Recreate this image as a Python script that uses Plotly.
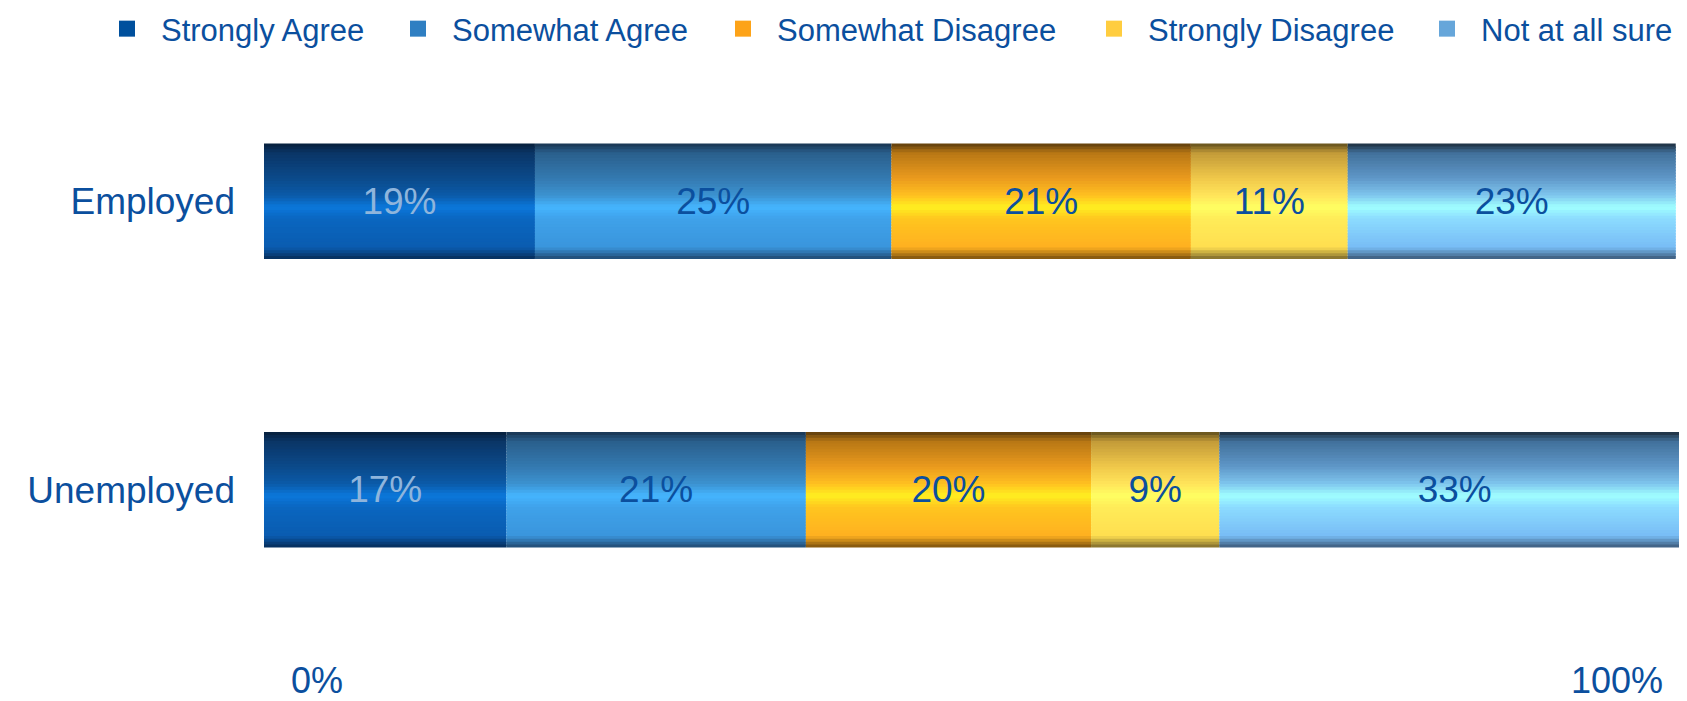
import plotly.graph_objects as go

# ---------------- data ----------------
CATEGORIES = ["Employed", "Unemployed"]
SERIES = ["Strongly Agree", "Somewhat Agree", "Somewhat Disagree", "Strongly Disagree", "Not at all sure"]
strongly_agree = [19, 17]
somewhat_agree = [25, 21]
somewhat_disagree = [21, 20]
strongly_disagree = [11, 9]
not_sure = [23, 33]
AXIS_TICKS = [0, 100]
AXIS_TICK_LABELS = ["0%", "100%"]

VALUES = [strongly_agree, somewhat_agree, somewhat_disagree, strongly_disagree, not_sure]

# ---------------- style ----------------
FONT = "Arial, 'Liberation Sans', sans-serif"
TEXT_BLUE = "#0b4f9e"
LEGEND_COLORS = ["#00509d", "#2f7fc2", "#fda318", "#ffcd3f", "#66a6da"]
LEGEND_X_PX = [85, 376, 701, 1072, 1405]   # left edge of each legend box (px)
LABEL_COLORS = ["#8fb5dc", TEXT_BLUE, TEXT_BLUE, TEXT_BLUE, TEXT_BLUE]
# cylinder shading stops (top -> bottom)
GRADIENTS = [
    [(0.0, "#071f3a"), (0.08, "#0a3566"), (0.3, "#0b4a8a"), (0.45, "#0b5aa8"), (0.55, "#0b78dc"),
     (0.65, "#0a66c0"), (0.9, "#0a5cb0"), (1.0, "#062c58")],
    [(0.0, "#18334f"), (0.08, "#2a5f8c"), (0.3, "#3479b0"), (0.45, "#3c92d0"), (0.55, "#45b5ff"),
     (0.65, "#3fa2ea"), (0.9, "#3a95dc"), (1.0, "#21486f")],
    [(0.0, "#5a3a0c"), (0.08, "#b77715"), (0.3, "#ea9a1e"), (0.45, "#ffc020"), (0.55, "#fff020"),
     (0.65, "#ffc61f"), (0.9, "#ffb020"), (1.0, "#7a500e")],
    [(0.0, "#5e4d1c"), (0.08, "#c29a38"), (0.3, "#f0c84a"), (0.45, "#ffe45a"), (0.55, "#ffff62"),
     (0.65, "#ffec58"), (0.9, "#ffde50"), (1.0, "#7d6a2c")],
    [(0.0, "#1c2c3c"), (0.08, "#41709a"), (0.3, "#5f97c8"), (0.45, "#7fc6ee"), (0.55, "#a0ffff"),
     (0.65, "#8cdcff"), (0.9, "#78bcf5"), (1.0, "#3b5978")],
]
BAR_WIDTH = 0.4
N_STRIPS = 40
W, H = 1687, 701


def hex_to_rgb(h):
    h = h.lstrip("#")
    return tuple(int(h[i:i + 2], 16) for i in (0, 2, 4))


def grad_color(stops, t):
    for (t0, c0), (t1, c1) in zip(stops[:-1], stops[1:]):
        if t0 <= t <= t1:
            f = 0 if t1 == t0 else (t - t0) / (t1 - t0)
            a, b = hex_to_rgb(c0), hex_to_rgb(c1)
            return "rgb(%d,%d,%d)" % tuple(round(a[i] + (b[i] - a[i]) * f) for i in range(3))
    return stops[-1][1]


# cumulative bases
bases = []
running = [0] * len(CATEGORIES)
for vals in VALUES:
    bases.append(list(running))
    running = [r + v for r, v in zip(running, vals)]

fig = go.Figure()

# shading strips (cylinder look), drawn from the data with base = cumulative start
strip_w = BAR_WIDTH / N_STRIPS
for name, vals, base, stops in zip(SERIES, VALUES, bases, GRADIENTS):
    for k in range(N_STRIPS):
        t = (k + 0.5) / N_STRIPS
        last = k == N_STRIPS - 1
        fig.add_trace(go.Bar(
            y=CATEGORIES, x=vals, base=base, orientation="h",
            width=strip_w if last else strip_w * 1.6, offset=-BAR_WIDTH / 2 + k * strip_w,
            marker=dict(color=grad_color(stops, t), line=dict(width=0)),
            showlegend=False, hoverinfo="skip",
        ))

# value labels
for name, vals, base, lc in zip(SERIES, VALUES, bases, LABEL_COLORS):
    fig.add_trace(go.Bar(
        y=CATEGORIES, x=vals, base=base, orientation="h", width=BAR_WIDTH,
        marker=dict(color="rgba(0,0,0,0)", line=dict(width=0)),
        text=[f"{v}%" for v in vals], textposition="inside", insidetextanchor="middle",
        textangle=0, constraintext="none",
        textfont=dict(family=FONT, size=37, color=lc),
        showlegend=False, hoverinfo="skip",
    ))

# legend entries, one legend box per entry so each can sit where the reference has it
legend_layout = {}
for i, (name, col, lx) in enumerate(zip(SERIES, LEGEND_COLORS, LEGEND_X_PX)):
    key = "legend" if i == 0 else f"legend{i + 1}"
    fig.add_trace(go.Scatter(
        x=[None], y=[None], mode="markers", name=name, legend=key,
        marker=dict(symbol="square", size=30, color=col, line=dict(width=0)),
    ))
    legend_layout[key] = dict(
        orientation="h", xref="container", yref="container", x=lx / W, xanchor="left",
        y=1 - 21 / H, yanchor="middle", font=dict(family=FONT, size=31, color=TEXT_BLUE),
        itemwidth=58, itemsizing="trace", bgcolor="rgba(0,0,0,0)",
        itemclick=False, itemdoubleclick=False,
    )

# helper trace for the second x axis (carries the 100% tick)
fig.add_trace(go.Scatter(x=AXIS_TICKS, y=[CATEGORIES[0], CATEGORIES[0]], xaxis="x2",
                         mode="none", showlegend=False, hoverinfo="skip"))

axis_common = dict(range=[0, 100], showgrid=False, zeroline=False, showline=False, ticks="",
                   tickfont=dict(family=FONT, size=36, color=TEXT_BLUE), ticklabelstandoff=22,
                   automargin=False)

fig.update_layout(
    width=W, height=H,
    paper_bgcolor="white", plot_bgcolor="white",
    barmode="overlay",
    margin=dict(l=256, r=5, t=49, b=75, autoexpand=False),
    font=dict(family=FONT, color=TEXT_BLUE),
    showlegend=True,
    xaxis=dict(**axis_common, tickvals=[AXIS_TICKS[0]], ticktext=[AXIS_TICK_LABELS[0]],
               ticklabelshift=53),
    xaxis2=dict(**axis_common, overlaying="x", matches="x", side="bottom", anchor="y",
                tickvals=[AXIS_TICKS[1]], ticktext=[AXIS_TICK_LABELS[1]], ticklabelshift=-73),
    yaxis=dict(categoryorder="array", categoryarray=CATEGORIES, range=[1.5, -0.5],
               showgrid=False, zeroline=False, showline=False, ticks="", automargin=False,
               tickfont=dict(family=FONT, size=37, color=TEXT_BLUE), ticklabelstandoff=28),
    **legend_layout,
)

fig.write_html("out.html")
